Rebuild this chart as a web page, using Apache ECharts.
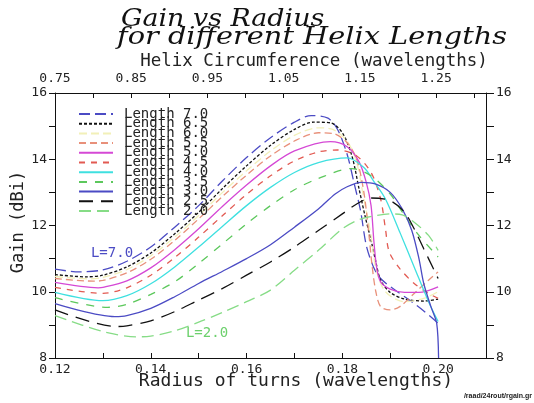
<!DOCTYPE html>
<html>
<head>
<meta charset="utf-8">
<script src="https://cdn.jsdelivr.net/npm/echarts@6/dist/echarts.min.js"></script>
<style>
  html, body { margin: 0; padding: 0; background: #fff; }
  #gain { width: 534px; height: 403px; }
</style>
</head>
<body>
<div id="gain"></div>
<script>
var lengths = ['7.0', '6.5', '6.0', '5.5', '5.0', '4.5', '4.0', '3.5', '3.0', '2.5', '2.0'];

// [radius (wavelengths), gain (dBi)]
var len70 = [[0.12,10.68],[0.125,10.6],[0.13,10.66],[0.135,10.92],[0.14,11.35],[0.145,11.95],[0.15,12.6],[0.155,13.35],[0.16,14.05],[0.165,14.65],[0.17,15.12],[0.1735,15.32],[0.177,15.24],[0.179,14.9],[0.181,14.15],[0.1825,13.25],[0.1838,12.45],[0.185,11.4],[0.1865,10.75],[0.188,10.4],[0.191,10.05],[0.194,9.75],[0.197,9.42],[0.2,9.05]];
var len65 = [[0.12,10.52],[0.1265,10.45],[0.13,10.5],[0.135,10.75],[0.14,11.17],[0.145,11.75],[0.15,12.4],[0.155,13.12],[0.16,13.8],[0.165,14.42],[0.17,14.9],[0.174,15.12],[0.1775,15.1],[0.18,14.8],[0.182,14.1],[0.1835,13.1],[0.1848,12.25],[0.186,11.55],[0.187,10.9],[0.188,10.35],[0.19,9.98],[0.193,9.78],[0.197,9.72],[0.2,9.78]];
var len60 = [[0.12,10.46],[0.127,10.39],[0.13,10.43],[0.135,10.67],[0.14,11.08],[0.145,11.65],[0.15,12.3],[0.155,13.0],[0.16,13.65],[0.165,14.25],[0.17,14.72],[0.175,14.95],[0.178,14.9],[0.181,14.55],[0.183,13.9],[0.1845,12.8],[0.186,11.7],[0.187,10.7],[0.189,10.0],[0.193,9.7],[0.197,9.8],[0.2,10.0]];
var len55 = [[0.12,10.4],[0.128,10.32],[0.13,10.34],[0.135,10.57],[0.14,10.98],[0.145,11.55],[0.15,12.2],[0.155,12.88],[0.16,13.52],[0.165,14.1],[0.17,14.55],[0.175,14.8],[0.178,14.78],[0.181,14.5],[0.183,14.0],[0.1845,13.0],[0.1855,11.8],[0.1862,10.8],[0.187,10.0],[0.188,9.55],[0.19,9.45],[0.192,9.55],[0.195,9.95],[0.198,10.35],[0.2,10.6]];
var len50 = [[0.12,10.28],[0.129,10.12],[0.13,10.13],[0.135,10.33],[0.14,10.72],[0.145,11.27],[0.15,11.9],[0.155,12.58],[0.16,13.22],[0.165,13.8],[0.17,14.25],[0.1775,14.53],[0.181,14.38],[0.1835,13.92],[0.185,13.3],[0.186,12.6],[0.1866,11.5],[0.1872,10.7],[0.188,10.3],[0.19,10.08],[0.193,9.98],[0.196,9.98],[0.2,10.15]];
var len45 = [[0.12,10.13],[0.13,9.95],[0.135,10.12],[0.14,10.5],[0.145,11.03],[0.15,11.65],[0.155,12.3],[0.16,12.94],[0.165,13.5],[0.17,13.95],[0.175,14.22],[0.179,14.28],[0.183,14.1],[0.186,13.6],[0.188,12.8],[0.189,11.9],[0.1898,11.2],[0.192,10.7],[0.195,10.25],[0.198,9.95],[0.2,9.8]];
var len40 = [[0.12,9.98],[0.13,9.73],[0.135,9.88],[0.14,10.24],[0.145,10.75],[0.15,11.35],[0.155,11.98],[0.16,12.6],[0.165,13.15],[0.17,13.6],[0.175,13.9],[0.181,14.04],[0.1845,13.75],[0.1865,13.35],[0.189,12.8],[0.192,11.8],[0.195,10.75],[0.198,9.7],[0.2,9.1]];
var len35 = [[0.12,9.82],[0.131,9.53],[0.135,9.62],[0.14,9.92],[0.145,10.3],[0.15,10.85],[0.155,11.45],[0.16,12.05],[0.165,12.6],[0.17,13.08],[0.175,13.42],[0.182,13.72],[0.186,13.5],[0.19,12.95],[0.193,12.3],[0.196,11.7],[0.2,11.05]];
var len30 = [[0.12,9.64],[0.1325,9.25],[0.135,9.28],[0.14,9.5],[0.145,9.85],[0.15,10.25],[0.155,10.62],[0.16,11.0],[0.165,11.42],[0.17,11.95],[0.175,12.5],[0.1785,12.95],[0.181,13.17],[0.184,13.3],[0.187,13.25],[0.19,13.0],[0.1925,12.5],[0.1945,11.85],[0.196,11.0],[0.197,10.25],[0.1985,9.55],[0.1997,9.05],[0.2001,8.0]];
var len25 = [[0.12,9.45],[0.133,8.95],[0.135,8.97],[0.14,9.12],[0.145,9.4],[0.15,9.75],[0.155,10.1],[0.16,10.5],[0.165,10.9],[0.17,11.35],[0.175,11.85],[0.18,12.35],[0.183,12.65],[0.186,12.83],[0.19,12.75],[0.193,12.4],[0.195,11.9],[0.197,11.3],[0.199,10.7],[0.2,10.4]];
var len20 = [[0.12,9.28],[0.13,8.8],[0.137,8.64],[0.14,8.66],[0.145,8.82],[0.15,9.08],[0.155,9.38],[0.16,9.7],[0.165,10.05],[0.17,10.65],[0.175,11.25],[0.18,11.9],[0.1835,12.18],[0.187,12.3],[0.19,12.35],[0.1925,12.32],[0.195,12.1],[0.198,11.7],[0.2,11.25]];

var curves = [len70, len65, len60, len55, len50, len45, len40, len35, len30, len25, len20];
var colors = ['#4b4bc4', '#111111', '#f2f0b8', '#e8907a', '#d548d5', '#e25a52', '#3fe0e0', '#5cc85c', '#4b4bc4', '#111111', '#86dc86'];
var dashes = [[11, 5], [3, 2], [8, 4], [7, 4], 'solid', [6, 6], 'solid', [8, 8], 'solid', [14, 8], [12, 6]];

var mono = '"DejaVu Sans Mono", monospace';
var ink = '#222';

var chart = echarts.init(document.getElementById('gain'));

var series = curves.map(function (d, i) {
  return {
    name: 'Length ' + lengths[i],
    type: 'line',
    xAxisIndex: 0,
    yAxisIndex: 0,
    data: d,
    symbol: 'none',
    smooth: 0.3,
    lineStyle: { color: colors[i], width: 1.3, type: dashes[i] },
    itemStyle: { color: colors[i] }
  };
});

var axisCommon = {
  type: 'value',
  axisLine: { show: true, lineStyle: { color: '#111', width: 1 } },
  splitLine: { show: false },
  axisLabel: { color: ink, fontFamily: mono, fontSize: 13 }
};

chart.setOption({
  animation: false,
  backgroundColor: '#fff',
  grid: { left: 55, right: 48, top: 93, bottom: 45 },
  legend: {
    orient: 'vertical',
    left: 78,
    top: 107,
    padding: 0,
    itemWidth: 34,
    itemHeight: 10,
    itemGap: -4.3,
    selectedMode: false,
    itemStyle: { opacity: 0 },
    data: lengths.map(function (l) { return 'Length ' + l; }),
    textStyle: { color: ink, fontFamily: mono, fontSize: 14, lineHeight: 10, padding: [0, 0, 0, 6] }
  },
  xAxis: [
    Object.assign({}, axisCommon, {
      position: 'bottom',
      min: 0.12,
      max: 0.21,
      interval: 0.01,
      axisTick: { show: true, inside: true, length: 5, lineStyle: { color: '#111' } },
      axisLabel: Object.assign({}, axisCommon.axisLabel, {
        margin: 5,
        showMaxLabel: false,
        formatter: function (v) {
          var k = Math.round(v * 100);
          return (k % 2 === 0 && k <= 20) ? (k / 100).toFixed(2) : '';
        }
      })
    }),
    Object.assign({}, axisCommon, {
      position: 'top',
      min: 0.75,
      max: 0.75 + 0.09 * 2 * Math.PI,
      interval: 0.05,
      axisTick: { show: true, inside: true, length: 5, lineStyle: { color: '#111' } },
      axisLabel: Object.assign({}, axisCommon.axisLabel, {
        margin: 8,
        showMaxLabel: false,
        formatter: function (v) {
          var k = Math.round(v * 100);
          return (k % 10 === 5) ? (k / 100).toFixed(2) : '';
        }
      })
    })
  ],
  yAxis: [
    Object.assign({}, axisCommon, {
      position: 'left',
      min: 8,
      max: 16,
      interval: 1,
      axisTick: { show: true, length: 6, lineStyle: { color: '#111' } },
      axisLabel: Object.assign({}, axisCommon.axisLabel, {
        margin: 8,
        formatter: function (v) { return v % 2 === 0 ? String(v) : ''; }
      })
    }),
    Object.assign({}, axisCommon, {
      position: 'right',
      min: 8,
      max: 16,
      interval: 1,
      axisTick: { show: true, length: 8, lineStyle: { color: '#111' } },
      axisLabel: Object.assign({}, axisCommon.axisLabel, {
        margin: 10,
        formatter: function (v) { return v % 2 === 0 ? String(v) : ''; }
      })
    })
  ],
  graphic: [
    { type: 'text', x: 121, y: 20, scaleX: 1.12, style: { text: 'Gain vs Radius', font: 'italic 24px "DejaVu Serif", serif', fill: '#111', verticalAlign: 'middle' } },
    { type: 'text', x: 117, y: 38, scaleX: 1.2, style: { text: 'for different Helix Lengths', font: 'italic 24px "DejaVu Serif", serif', fill: '#111', verticalAlign: 'middle' } },
    { type: 'text', x: 314, y: 61, style: { text: 'Helix Circumference (wavelengths)', font: '17.5px ' + mono, fill: ink, align: 'center', verticalAlign: 'middle' } },
    { type: 'text', x: 296, y: 381, style: { text: 'Radius of turns (wavelengths)', font: '18px ' + mono, fill: ink, align: 'center', verticalAlign: 'middle' } },
    { type: 'text', x: 19, y: 222, rotation: Math.PI / 2, style: { text: 'Gain (dBi)', font: '17px ' + mono, fill: ink, align: 'center', verticalAlign: 'middle' } },
    { type: 'text', x: 112, y: 253, style: { text: 'L=7.0', font: '14px ' + mono, fill: '#4b4bc4', align: 'center', verticalAlign: 'middle' } },
    { type: 'text', x: 207, y: 333, style: { text: 'L=2.0', font: '14px ' + mono, fill: '#6cd06c', align: 'center', verticalAlign: 'middle' } },
    { type: 'text', x: 532, y: 396, style: { text: '/raad/24rout/rgain.gr', font: 'bold 7px "Liberation Sans", sans-serif', fill: '#222', align: 'right', verticalAlign: 'middle' } }
  ],
  series: series
});
</script>
</body>
</html>
